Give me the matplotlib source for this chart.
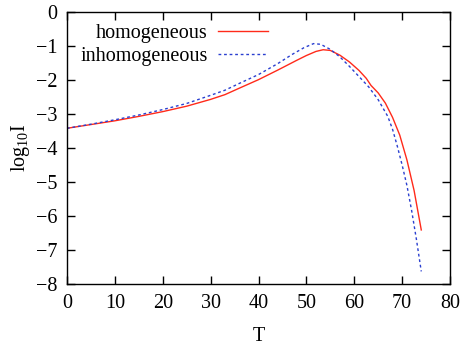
import numpy as np
import matplotlib.pyplot as plt

plt.rcParams['font.family'] = ['Liberation Serif', 'DejaVu Serif']
plt.rcParams['mathtext.fontset'] = 'custom'
plt.rcParams['mathtext.rm'] = 'Liberation Serif'
plt.rcParams['mathtext.it'] = 'Liberation Serif:italic'

# Data
T_hom = [0, 5, 10, 15, 20, 25, 30, 33, 36, 40, 44, 48, 50, 52, 53.5, 55, 57, 59, 61,
         62.5, 63.5, 65, 66.5, 68, 69.5, 71, 72.5, 74]
logI_hom = [-3.42, -3.31, -3.20, -3.07, -2.93, -2.77, -2.57, -2.43, -2.24, -1.99, -1.71,
            -1.42, -1.28, -1.16, -1.11, -1.13, -1.27, -1.47, -1.72, -1.95, -2.16, -2.38,
            -2.68, -3.10, -3.62, -4.35, -5.25, -6.41]

T_inh = [0, 5, 10, 15, 20, 25, 30, 33, 36, 40, 44, 47, 49.5, 51.5, 53, 55, 57, 59, 61,
         63, 65, 67, 68, 69, 70, 71, 72, 73, 74]
logI_inh = [-3.42, -3.30, -3.17, -3.03, -2.87, -2.69, -2.45, -2.30, -2.10, -1.84, -1.52,
            -1.25, -1.05, -0.93, -0.95, -1.10, -1.32, -1.60, -1.90, -2.20, -2.58, -3.07,
            -3.45, -3.95, -4.50, -5.10, -5.85, -6.70, -7.63]

fig = plt.figure(figsize=(4.66, 3.48), dpi=100)
ax = fig.add_axes([67/466, 1 - 284/348, (450 - 67)/466, (284 - 12)/348])

ax.plot(T_hom, logI_hom, color='#ff2a1a', lw=1.0, label='homogeneous')
ax.plot(T_inh, logI_inh, color='#2a3fd0', lw=1.0, ls=(0, (2, 2)), label='inhomogeneous')

ax.set_xlim(0, 80)
ax.set_ylim(-8, 0)
ax.set_xticks(range(0, 81, 10))
ax.set_yticks(range(-8, 1))
ax.tick_params(direction='in', top=True, right=True, length=6, width=1, labelsize=14.5, pad=7)
for s in ax.spines.values():
    s.set_linewidth(1)

ax.set_xlabel('T', fontsize=14.5, labelpad=10)
ax.set_ylabel(r'log$_{\mathrm{10}}$I', fontsize=14.5, labelpad=3)

ax.legend(loc='upper right', bbox_to_anchor=(0.525, 0.955), frameon=False, markerfirst=False,
          fontsize=14.5, handlelength=2.5, handletextpad=0.5, labelspacing=0.2,
          borderpad=0, borderaxespad=0)

fig.savefig('out.png', dpi=100)
